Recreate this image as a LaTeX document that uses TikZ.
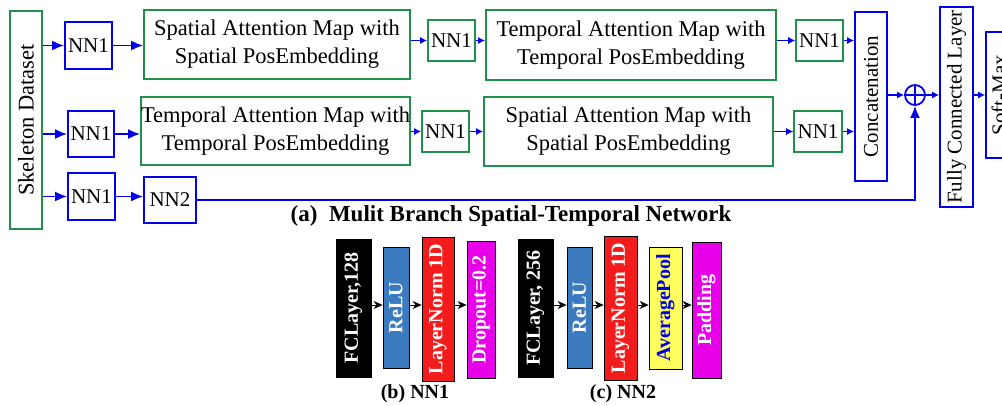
\documentclass[tikz,border=0pt]{standalone}
\usepackage{fontspec}
\setmainfont{Liberation Serif}
\usepackage{graphicx}
\usetikzlibrary{arrows.meta}
\definecolor{tgreen}{RGB}{30,145,75}
\definecolor{tblue}{RGB}{0,0,235}
\definecolor{rblue}{RGB}{60,122,192}
\definecolor{rred}{RGB}{242,28,28}
\definecolor{rmag}{RGB}{232,0,232}
\definecolor{ryel}{RGB}{255,255,95}
\newcommand{\bigtxt}{\fontsize{22.5}{28}\selectfont}
\newcommand{\midtxt}{\fontsize{21}{25}\selectfont}
\newcommand{\boldtxt}{\fontsize{20}{24}\selectfont\bfseries}
\tikzset{
  gbox/.style={draw=tgreen, line width=1.8pt, inner sep=0pt, align=center},
  bbox/.style={draw=tblue, line width=1.8pt, inner sep=0pt, align=center},
  bigarr/.style={draw=tblue, line width=1.8pt, -{Latex[length=12pt,width=10pt]}},
  smallarr/.style={draw=tblue, line width=1.2pt, -{Latex[length=7pt,width=7pt]}},
  thinarr/.style={draw=tblue, line width=0.7pt, -{Latex[length=7pt,width=7pt]}},
  layer/.style={draw=black, line width=0.8pt, inner sep=0pt, text=white},
  karr/.style={draw=black, line width=0.8pt, -{Stealth[length=9pt,width=8pt]}},
}
\begin{document}
\begin{tikzpicture}[x=1pt,y=-1pt]
\useasboundingbox (0,0) rectangle (1002,405);
\clip (0,0) rectangle (1002,405);
% top part
\node[gbox, minimum width=32pt, minimum height=218pt] (skel) at (26,120) {\rotatebox{90}{\bigtxt Skeleton Dataset}};
% row 1
\node[bbox, font=\midtxt, minimum width=47pt, minimum height=47pt] (nn1a) at (88.5,45.5) {NN1};
\node[gbox, font=\bigtxt, minimum width=266pt, minimum height=69pt] (sa1) at (277,44.5) {Spatial Attention Map with\\Spatial PosEmbedding};
\node[gbox, font=\midtxt, minimum width=47pt, minimum height=41pt] (nn1b) at (451.5,40.5) {NN1};
\node[gbox, font=\bigtxt, minimum width=290pt, minimum height=70pt] (ta1) at (631,45) {Temporal Attention Map with\\Temporal PosEmbedding};
\node[gbox, font=\midtxt, minimum width=47pt, minimum height=41pt] (nn1c) at (819.5,40.5) {NN1};
% row 2
\node[bbox, font=\midtxt, minimum width=46pt, minimum height=46pt] (nn1d) at (91,134) {NN1};
\node[gbox, font=\bigtxt, minimum width=267pt, minimum height=68pt] (ta2) at (275.5,131) {Temporal Attention Map with\\Temporal PosEmbedding};
\node[gbox, font=\midtxt, minimum width=47pt, minimum height=41pt] (nn1e) at (445.5,131.5) {NN1};
\node[gbox, font=\bigtxt, minimum width=289pt, minimum height=69pt] (sa2) at (628.5,131.5) {Spatial Attention Map with\\Spatial PosEmbedding};
\node[gbox, font=\midtxt, minimum width=48pt, minimum height=41pt] (nn1f) at (818,131.5) {NN1};
% row 3
\node[bbox, font=\midtxt, minimum width=47pt, minimum height=47pt] (nn1g) at (91.5,196.5) {NN1};
\node[bbox, font=\midtxt, minimum width=52pt, minimum height=46pt] (nn2) at (170,200) {NN2};
% right side
\node[bbox, minimum width=32pt, minimum height=169pt] (concat) at (871,96.5) {\rotatebox{90}{\midtxt Concatenation}};
\node[draw=tblue, line width=1.8pt, circle, minimum size=20pt, inner sep=0pt,
  path picture={\draw[tblue, line width=1.8pt] (path picture bounding box.north) -- (path picture bounding box.south)
  (path picture bounding box.west) -- (path picture bounding box.east);}] (oplus) at (915,95) {};
\node[bbox, minimum width=33pt, minimum height=200pt] (fc) at (956.5,107) {\rotatebox{90}{\midtxt Fully Connected Layer}};
\node[bbox, minimum width=26pt, minimum height=126pt] (soft) at (999,95) {\rotatebox{90}{\midtxt Soft-Max}};
% arrows row 1
\draw[bigarr] (skel.east |- nn1a) -- (nn1a);
\draw[bigarr] (nn1a) -- (nn1a -| sa1.west);
\draw[smallarr] (sa1.east |- nn1b) -- (nn1b);
\draw[smallarr] (nn1b) -- (nn1b -| ta1.west);
\draw[thinarr] (ta1.east |- nn1c) -- (nn1c);
\draw[smallarr] (nn1c) -- (nn1c -| concat.west);
% arrows row 2
\draw[bigarr] (skel.east |- nn1d) -- (nn1d);
\draw[bigarr] (nn1d) -- (nn1d -| ta2.west);
\draw[smallarr] (ta2.east |- nn1e) -- (nn1e);
\draw[smallarr] (nn1e) -- (nn1e -| sa2.west);
\draw[thinarr] (sa2.east |- nn1f) -- (nn1f);
\draw[smallarr] (nn1f) -- (nn1f -| concat.west);
% arrows row 3
\draw[bigarr] (skel.east |- nn1g) -- (nn1g);
\draw[bigarr] (nn1g) -- (nn1g -| nn2.west);
\draw[bigarr] (nn2.east) -- (nn2.east -| oplus) -- (oplus.south);
% right arrows
\draw[smallarr] (concat.east |- oplus) -- (oplus);
\draw[smallarr] (oplus) -- (oplus -| fc.west);
\draw[smallarr] (fc.east |- soft) -- (soft);
% caption a
\node[inner sep=0pt] (capa) at (511,216) {\fontsize{23}{27}\selectfont\bfseries (a)\ \ Mulit Branch Spatial-Temporal Network};
% NN1 detail
\node[layer, fill=black, minimum width=35pt, minimum height=138pt] (fc1) at (353.5,308) {\rotatebox{90}{\boldtxt FCLayer,128}};
\node[layer, fill=rblue, minimum width=26pt, minimum height=121pt] (relu1) at (396,307.5) {\rotatebox{90}{\boldtxt ReLU}};
\node[layer, fill=rred, minimum width=32pt, minimum height=144pt] (ln1) at (438,309) {\rotatebox{90}{\boldtxt LayerNorm 1D}};
\node[layer, fill=rmag, minimum width=28pt, minimum height=137pt] (do1) at (481,309.5) {\rotatebox{90}{\boldtxt Dropout=0.2}};
\draw[karr] (fc1.east |- 0,305) -- (relu1.west |- 0,305);
\draw[karr] (relu1.east |- 0,305) -- (ln1.west |- 0,305);
\draw[karr] (ln1.east |- 0,305) -- (do1.west |- 0,305);
\node[inner sep=0pt] (capb) at (415,394) {\boldtxt (b) NN1};
% NN2 detail
\node[layer, fill=black, minimum width=35pt, minimum height=138pt] (fc2) at (535.5,308) {\rotatebox{90}{\boldtxt FCLayer, 256}};
\node[layer, fill=rblue, minimum width=25pt, minimum height=121pt] (relu2) at (579.5,307.5) {\rotatebox{90}{\boldtxt ReLU}};
\node[layer, fill=rred, minimum width=33pt, minimum height=144pt] (ln2) at (620.5,308) {\rotatebox{90}{\boldtxt LayerNorm 1D}};
\node[layer, fill=ryel, text=tblue, minimum width=33pt, minimum height=122pt] (ap2) at (665.5,308) {\rotatebox{90}{\boldtxt AveragePool}};
\node[layer, fill=rmag, minimum width=29pt, minimum height=136pt] (pad2) at (706.5,310) {\rotatebox{90}{\boldtxt Padding}};
\draw[karr] (fc2.east |- 0,305) -- (relu2.west |- 0,305);
\draw[karr] (relu2.east |- 0,305) -- (ln2.west |- 0,305);
\draw[karr] (ln2.east |- 0,305) -- (ap2.west |- 0,305);
\draw[karr] (ap2.east |- 0,305) -- (pad2.west |- 0,305);
\node[inner sep=0pt] (capc) at (623,394) {\boldtxt (c) NN2};
\end{tikzpicture}
\end{document}
